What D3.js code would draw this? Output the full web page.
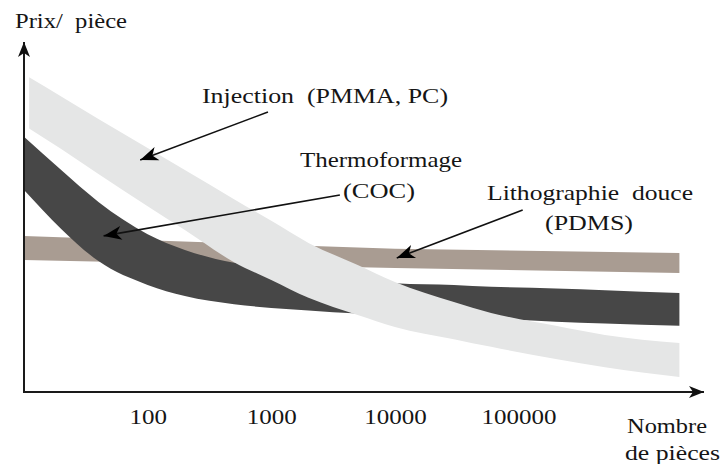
<!DOCTYPE html>
<meta charset="utf-8">
<script src="https://cdn.jsdelivr.net/npm/d3@7"></script>
<style>
    body { margin: 0; background: #fff; }
    text {
        font-family: "Liberation Serif", "Times New Roman", serif;
        fill: #151515;
    }
</style>
<body>
<script>

    // Injection (PMMA, PC) - light band
    var injCounts = [11, 20, 40, 100, 200, 500, 1000, 2000, 5000, 10000, 30000, 60000, 200000, 500000, 2000000];
    var injHigh = [89.9, 84.4, 78, 69.7, 63.4, 55.1, 48.9, 42.6, 36.3, 31.4, 25.7, 22.6, 18.9, 16.3, 14];
    var injLow = [75.3, 69.4, 62.3, 53.1, 46.3, 37.1, 32, 26.9, 22, 18.6, 15.1, 12.9, 9.4, 7.1, 4.3];

    // Thermoformage (COC) - dark band
    var thermoCounts = [10, 20, 40, 100, 200, 500, 1000, 2000, 5000, 10000, 30000, 60000, 200000, 500000, 2000000];
    var thermoHigh = [72.9, 63.4, 54.3, 45.1, 40.6, 36.9, 35.4, 34, 32.3, 31.1, 30.6, 30.1, 29.6, 29.1, 28.3];
    var thermoLow = [57.7, 46.6, 37.4, 30.6, 27.4, 25.1, 24, 23.3, 22.4, 22, 21.3, 20.9, 20.1, 19.6, 18.9];

    // Lithographie douce (PDMS) - brown band
    var lithoCounts = [10, 10000, 2000000];
    var lithoHigh = [44.6, 40.9, 39.7];
    var lithoLow = [37.7, 35.4, 34];

    var tickValues = [100, 1000, 10000, 100000];

    var width = 721,
        height = 464;

    var svg = d3.select("body").append("svg")
        .attr("width", width)
        .attr("height", height);

    var x = d3.scaleLog()
        .domain([10, Math.pow(10, 6.5)])
        .range([24, 704]);

    var y = d3.scaleLinear()
        .domain([0, 100])
        .range([392, 42]);

    function band(counts, hi, lo) {
        return counts.map(function (n, i) {
            return { n: n, hi: hi[i], lo: lo[i] };
        });
    }

    var area = d3.area()
        .x(function (d) { return x(d.n); })
        .y0(function (d) { return y(d.lo); })
        .y1(function (d) { return y(d.hi); })
        .curve(d3.curveMonotoneX);

    var areaFlat = d3.area()
        .x(function (d) { return x(d.n); })
        .y0(function (d) { return y(d.lo); })
        .y1(function (d) { return y(d.hi); });

    // arrow heads
    var defs = svg.append("defs");
    defs.append("marker")
        .attr("id", "head")
        .attr("markerUnits", "userSpaceOnUse")
        .attr("viewBox", "-20 -9 22 18")
        .attr("refX", 0).attr("refY", 0)
        .attr("markerWidth", 22).attr("markerHeight", 18)
        .attr("orient", "auto")
        .append("path")
        .attr("d", "M0,0 L-18,-7 L-13,0 L-18,7 Z")
        .style("fill", "#000");

    defs.append("marker")
        .attr("id", "axhead")
        .attr("markerUnits", "userSpaceOnUse")
        .attr("viewBox", "-16 -7 18 14")
        .attr("refX", 0).attr("refY", 0)
        .attr("markerWidth", 18).attr("markerHeight", 14)
        .attr("orient", "auto")
        .append("path")
        .attr("d", "M0,0 L-15,-6 L-11,0 L-15,6 Z")
        .style("fill", "#111");

    // bands: brown below, then dark, then light on top
    svg.append("path")
        .datum(band(lithoCounts, lithoHigh, lithoLow))
        .attr("d", areaFlat)
        .style("fill", "#a99c92");

    svg.append("path")
        .datum(band(thermoCounts, thermoHigh, thermoLow))
        .attr("d", area)
        .style("fill", "#474747");

    svg.append("path")
        .datum(band(injCounts, injHigh, injLow))
        .attr("d", area)
        .style("fill", "#e5e6e6");

    // axes
    svg.append("line")
        .attr("x1", x(10)).attr("y1", y(0))
        .attr("x2", x(10)).attr("y2", y(100))
        .attr("marker-end", "url(#axhead)")
        .style("stroke", "#1a1a1a")
        .style("stroke-width", 2);

    svg.append("line")
        .attr("x1", x(10) - 1).attr("y1", y(0))
        .attr("x2", x(Math.pow(10, 6.5))).attr("y2", y(0))
        .attr("marker-end", "url(#axhead)")
        .style("stroke", "#1a1a1a")
        .style("stroke-width", 2);

    var xAxis = d3.axisBottom(x)
        .tickValues(tickValues)
        .tickFormat(d3.format("d"))
        .tickSize(0)
        .tickPadding(17);

    var gx = svg.append("g")
        .attr("transform", "translate(0," + y(0) + ")")
        .call(xAxis);
    gx.select(".domain").remove();
    gx.selectAll("text")
        .style("font-family", "'Liberation Serif', 'Times New Roman', serif")
        .style("font-size", "21px")
        .style("fill", "#151515")
        .attr("textLength", function (d) { return String(d).length * 12.5; })
        .attr("lengthAdjust", "spacingAndGlyphs");

    // annotations: arrows from the labels to the bands
    var notes = [
        { from: [940, 80], to: [87, 66.3] },
        { from: [3590, 56.3], to: [44, 44.6] },
        { from: [108000, 52], to: [10350, 38.3] }
    ];

    svg.selectAll("line.note")
        .data(notes)
        .enter()
        .append("line")
        .attr("class", "note")
        .attr("x1", function (d) { return x(d.from[0]); })
        .attr("y1", function (d) { return y(d.from[1]); })
        .attr("x2", function (d) { return x(d.to[0]); })
        .attr("y2", function (d) { return y(d.to[1]); })
        .attr("marker-end", "url(#head)")
        .style("stroke", "#111")
        .style("stroke-width", 1.6);

    // labels
    var labels = [
        { t: "Prix/\u00a0\u00a0pièce", x: 15, y: 28, w: 112, s: 20 },
        { t: "Injection\u00a0\u00a0(PMMA, PC)", x: 202, y: 103, w: 246, s: 22 },
        { t: "Thermoformage", x: 300, y: 167, w: 162, s: 22 },
        { t: "(COC)", x: 343, y: 198, w: 72, s: 22 },
        { t: "Lithographie\u00a0\u00a0douce", x: 487, y: 200, w: 206, s: 22 },
        { t: "(PDMS)", x: 545, y: 230, w: 88, s: 22 },
        { t: "Nombre", x: 627, y: 433, w: 80, s: 22 },
        { t: "de pièces", x: 625, y: 460, w: 95, s: 22 }
    ];

    svg.selectAll("text.label")
        .data(labels)
        .enter()
        .append("text")
        .attr("class", "label")
        .attr("x", function (d) { return d.x; })
        .attr("y", function (d) { return d.y; })
        .attr("textLength", function (d) { return d.w; })
        .attr("lengthAdjust", "spacingAndGlyphs")
        .style("font-size", function (d) { return d.s + "px"; })
        .text(function (d) { return d.t; });

</script>
</body>
